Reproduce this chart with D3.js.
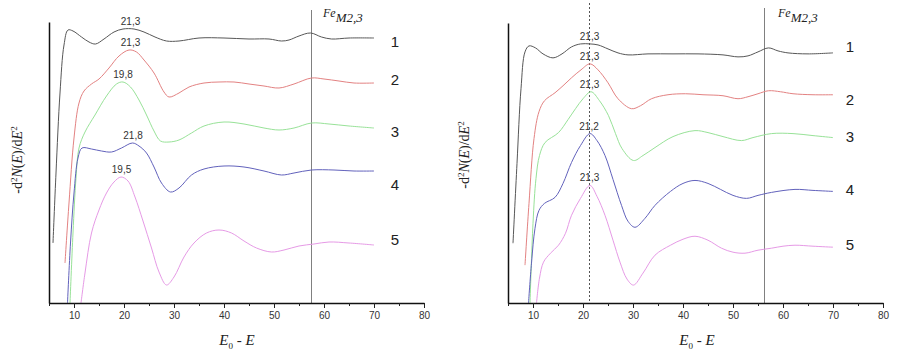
<!DOCTYPE html>
<html>
<head>
<meta charset="utf-8">
<script src="https://cdn.jsdelivr.net/npm/d3@7"></script>
<style>
    body { margin: 0; background: #fff; }
    svg { display: block; }
</style>
</head>
<body>
<svg id="diagram" width="901" height="363"></svg>
<script>
// x axis ticks
var xMajor = [10, 20, 30, 40, 50, 60, 70, 80];
var xMinor = [5, 15, 25, 35, 45, 55, 65, 75];
var curveNames = ["1", "2", "3", "4", "5"];

// left panel: [E0-E, intensity (a.u.)]
var left1 = [[5.8,60],[6.4,130],[7.2,210],[8.0,258],[8.8,273],[9.8,272],[11.5,266],[13,261],[14.3,259],[16,264],[18,271],[19.8,274],[22,274],[24,271],[26.2,266],[28.5,262],[31,262],[35,265],[40,265],[45,264],[49,264],[51.5,262],[53,263],[55,267],[57.3,270],[59.5,266],[61.5,264],[65,265],[70,265]];
var left2 = [[8.2,40],[9,100],[10,165],[11,200],[12,212],[13.5,219],[15,224],[17,235],[19,247],[21,253],[22.5,251],[24,243],[26,230],[28,211],[29,206],[31,210],[33,216],[36,220],[39,221],[42,221],[45,219],[48,217],[51,215],[54,219],[57.5,225],[60,224],[63,222],[66,220],[70,220]];
var left3 = [[9.2,0],[9.8,70],[10.4,125],[11,155],[12.2,171],[14.2,188],[16.5,207],[18.5,219],[19.8,221],[21.3,216],[23,203],[24.5,188],[26,172],[27.3,162],[29,161],[31,163],[33.5,170],[36,177],[40,181],[44,179],[48,175],[51,173],[54,175],[57.5,180],[61,179],[65,177],[70,175]];
var left4 = [[8.7,0],[9.3,60],[10,110],[10.8,145],[11.6,155],[13.5,154],[15.5,152],[17.5,151],[19.5,155],[21.7,160],[23,157],[24.5,150],[26,136],[27.5,120],[29.3,111],[31,115],[33.5,128],[36,134],[40,137],[44,136],[48,132],[51.5,128],[54,130],[57.5,133],[62,133],[66,132],[70,132]];
var left5 = [[11.4,0],[12.2,30],[13.5,70],[15,93],[16.5,110],[18,121],[19.4,126],[20.8,122],[22.2,106],[23.8,82],[25.5,55],[27,31],[28.5,18],[30,26],[32,46],[34,60],[36.5,70],[39,73],[41.5,70],[44,62],[46.5,55],[49.5,51],[52,53],[55,57],[58,59],[61,61],[65,60],[70,58]];
var leftPeaks = ["21,3", "21,3", "19,8", "21,8", "19,5"];
var leftFeLine = 57.5;

// right panel
var right1 = [[6.0,60],[6.8,140],[7.6,215],[8.4,252],[9.2,258],[10.5,256],[12,250],[14,246],[15.8,250],[17.7,257],[19.5,260],[21.4,260],[23,259],[25,255],[27,251],[29,249],[33,250],[38,250],[43,250],[48,249],[51,247],[53,248],[55,252],[57.1,256],[59,253],[61,251],[65,250],[70,251]];
var right2 = [[8.4,38],[9.2,100],[10.2,165],[11.2,192],[12.3,203],[14.4,211],[16,218],[17.7,226],[19.6,234],[21.4,240],[23,234],[25,221],[27,205],[29.7,195],[31.5,198],[33.7,205],[37,209],[40.5,210],[44,209],[48,208],[51,205],[53,207],[55,210],[57.1,213],[59.5,212],[62,210],[66,209],[70,209]];
var right3 = [[9.4,0],[10,80],[10.6,125],[11.3,148],[12.4,161],[15.1,171],[17,184],[18.5,195],[20,205],[21.6,212],[23.3,203],[25.1,188],[26.5,170],[27.8,155],[30.1,143],[32,148],[34.4,156],[38,167],[42.4,173],[45,171],[48,167],[51.7,163],[54,166],[57.7,170],[62,170],[66,168],[70,166]];
var right4 = [[9.1,0],[9.7,40],[10.4,75],[11.2,93],[12.3,100],[14.4,106],[16,120],[17.7,141],[19.5,158],[21.4,170],[22.8,163],[24.4,148],[26,124],[27.7,98],[29,82],[30.4,76],[32.4,85],[34.4,98],[37.5,112],[40,120],[42.4,123],[45,120],[47.5,114],[50,108],[52.7,105],[55,108],[57.7,111],[62.4,114],[66,113],[70,112]];
var right5 = [[10.7,0],[11.3,25],[12.1,41],[13.5,50],[15.1,58],[16.5,70],[17.7,88],[19.5,105],[21.4,118],[22.8,107],[24.4,88],[26,63],[27.4,41],[28.8,24],[30.1,18],[32,30],[34.4,48],[37.5,58],[40,64],[42.4,67],[45,63],[47.7,55],[50,51],[52.4,50],[55,53],[57.7,55],[60,57],[62.4,58],[66,57],[70,56]];
var rightPeaks = ["21,3", "21,3", "21,3", "21,2", "21,3"];
var rightFeLine = 56.3;
var rightDotted = 21.3;

var colors = ["#575757", "#e38282", "#98e298", "#6262bc", "#e69ae6"];

var svg = d3.select("#diagram");
svg.append("rect").attr("width", 901).attr("height", 363).attr("fill", "#fff");

drawPanel({
    series: [left1, left2, left3, left4, left5],
    peaks: leftPeaks, fe: leftFeLine, dotted: null,
    x0: 49, x1: 424, yTop: 22, yBot: 303, lineTop: 10,
    numX: 395, numY: [47, 85, 137, 190, 245],
    yTitle: [22, 160], xTitle: [237, 345], feText: [323, 17]
});

drawPanel({
    series: [right1, right2, right3, right4, right5],
    peaks: rightPeaks, fe: rightFeLine, dotted: rightDotted,
    x0: 508, x1: 883, yTop: 23, yBot: 303, lineTop: 8,
    numX: 850, numY: [52, 105, 142, 195, 250],
    yTitle: [469, 155], xTitle: [697, 345], feText: [778, 17]
});

function drawPanel(p) {
    var x = d3.scaleLinear().domain([5, 80]).range([p.x0, p.x1]);
    var y = d3.scaleLinear().domain([0, 281]).range([p.yBot, p.yTop]);
    var g = svg.append("g");

    // marker lines
    g.append("line")
        .attr("x1", x(p.fe)).attr("x2", x(p.fe))
        .attr("y1", p.lineTop).attr("y2", p.yBot)
        .attr("stroke", "#808080").attr("stroke-width", 1);
    if (p.dotted != null) {
        g.append("line")
            .attr("x1", x(p.dotted)).attr("x2", x(p.dotted))
            .attr("y1", 3).attr("y2", p.yBot)
            .attr("stroke", "#555").attr("stroke-width", 1)
            .attr("stroke-dasharray", "2,2");
    }

    // curves
    var line = d3.line()
        .x(function (d) { return x(d[0]); })
        .y(function (d) { return y(d[1]); })
        .curve(d3.curveCatmullRom.alpha(0.5));

    g.selectAll(".curve")
        .data(p.series)
        .enter().append("path")
        .attr("class", "curve")
        .attr("fill", "none")
        .attr("stroke", function (d, i) { return colors[i]; })
        .attr("stroke-width", 1)
        .attr("d", line);

    // peak labels
    g.selectAll(".peak")
        .data(p.peaks)
        .enter().append("text")
        .attr("class", "peak")
        .attr("x", function (d) { return x(+d.replace(",", ".")); })
        .attr("y", function (d, i) { return y(d3.max(p.series[i], function (v) { return v[1]; })) - 4; })
        .attr("text-anchor", "middle")
        .attr("font-family", "Liberation Sans, Arial, sans-serif")
        .attr("font-size", 10)
        .attr("fill", "#333")
        .text(function (d) { return d; });

    // curve numbers
    g.selectAll(".num")
        .data(curveNames)
        .enter().append("text")
        .attr("class", "num")
        .attr("x", p.numX)
        .attr("y", function (d, i) { return p.numY[i]; })
        .attr("text-anchor", "middle")
        .attr("font-family", "Liberation Sans, Arial, sans-serif")
        .attr("font-size", 15)
        .attr("fill", "#222")
        .text(function (d) { return d; });

    // axes
    var gx = g.append("g")
        .attr("transform", "translate(0," + p.yBot + ")")
        .call(d3.axisBottom(x).tickValues(xMajor).tickSize(5).tickSizeOuter(0).tickPadding(4));
    gx.select(".domain").attr("stroke", "#111").attr("stroke-width", 1.5);
    gx.selectAll(".tick line").attr("stroke", "#222");
    gx.selectAll(".tick text")
        .attr("font-family", "Liberation Sans, Arial, sans-serif")
        .attr("font-size", 10)
        .attr("fill", "#333");

    g.append("g")
        .attr("transform", "translate(0," + p.yBot + ")")
        .call(d3.axisBottom(x).tickValues(xMinor).tickSize(3).tickSizeOuter(0).tickFormat(""))
        .call(function (s) { s.select(".domain").remove(); })
        .selectAll(".tick line").attr("stroke", "#222");

    var gy = g.append("g")
        .attr("transform", "translate(" + p.x0 + ",0)")
        .call(d3.axisLeft(y).tickValues([]).tickSizeOuter(0));
    gy.select(".domain").attr("stroke", "#111").attr("stroke-width", 1.5);

    // y title
    var yt = g.append("text")
        .attr("transform", "translate(" + p.yTitle[0] + "," + p.yTitle[1] + ") rotate(-90)")
        .attr("text-anchor", "middle")
        .attr("font-family", "Liberation Serif, Times New Roman, serif")
        .attr("font-size", 14)
        .attr("fill", "#222");
    yt.append("tspan").text("-d");
    yt.append("tspan").attr("dy", -5).attr("font-size", 9).text("2");
    yt.append("tspan").attr("dy", 5).attr("font-style", "italic").text("N");
    yt.append("tspan").text("(");
    yt.append("tspan").attr("font-style", "italic").text("E");
    yt.append("tspan").text(")/d");
    yt.append("tspan").attr("font-style", "italic").text("E");
    yt.append("tspan").attr("dy", -5).attr("font-size", 9).text("2");

    // x title
    var xt = g.append("text")
        .attr("x", p.xTitle[0]).attr("y", p.xTitle[1])
        .attr("text-anchor", "middle")
        .attr("font-family", "Liberation Serif, Times New Roman, serif")
        .attr("font-size", 15)
        .attr("fill", "#222");
    xt.append("tspan").attr("font-style", "italic").text("E");
    xt.append("tspan").attr("dy", 4).attr("font-size", 9).text("0");
    xt.append("tspan").attr("dy", -4).text(" - ");
    xt.append("tspan").attr("font-style", "italic").text("E");

    // Fe M2,3 label
    var ft = g.append("text")
        .attr("x", p.feText[0]).attr("y", p.feText[1])
        .attr("font-family", "Liberation Serif, Times New Roman, serif")
        .attr("font-style", "italic")
        .attr("fill", "#222");
    ft.append("tspan").attr("font-size", 12).text("Fe");
    ft.append("tspan").attr("dy", 5).attr("font-size", 13).text("M2,3");
}
</script>
</body>
</html>
